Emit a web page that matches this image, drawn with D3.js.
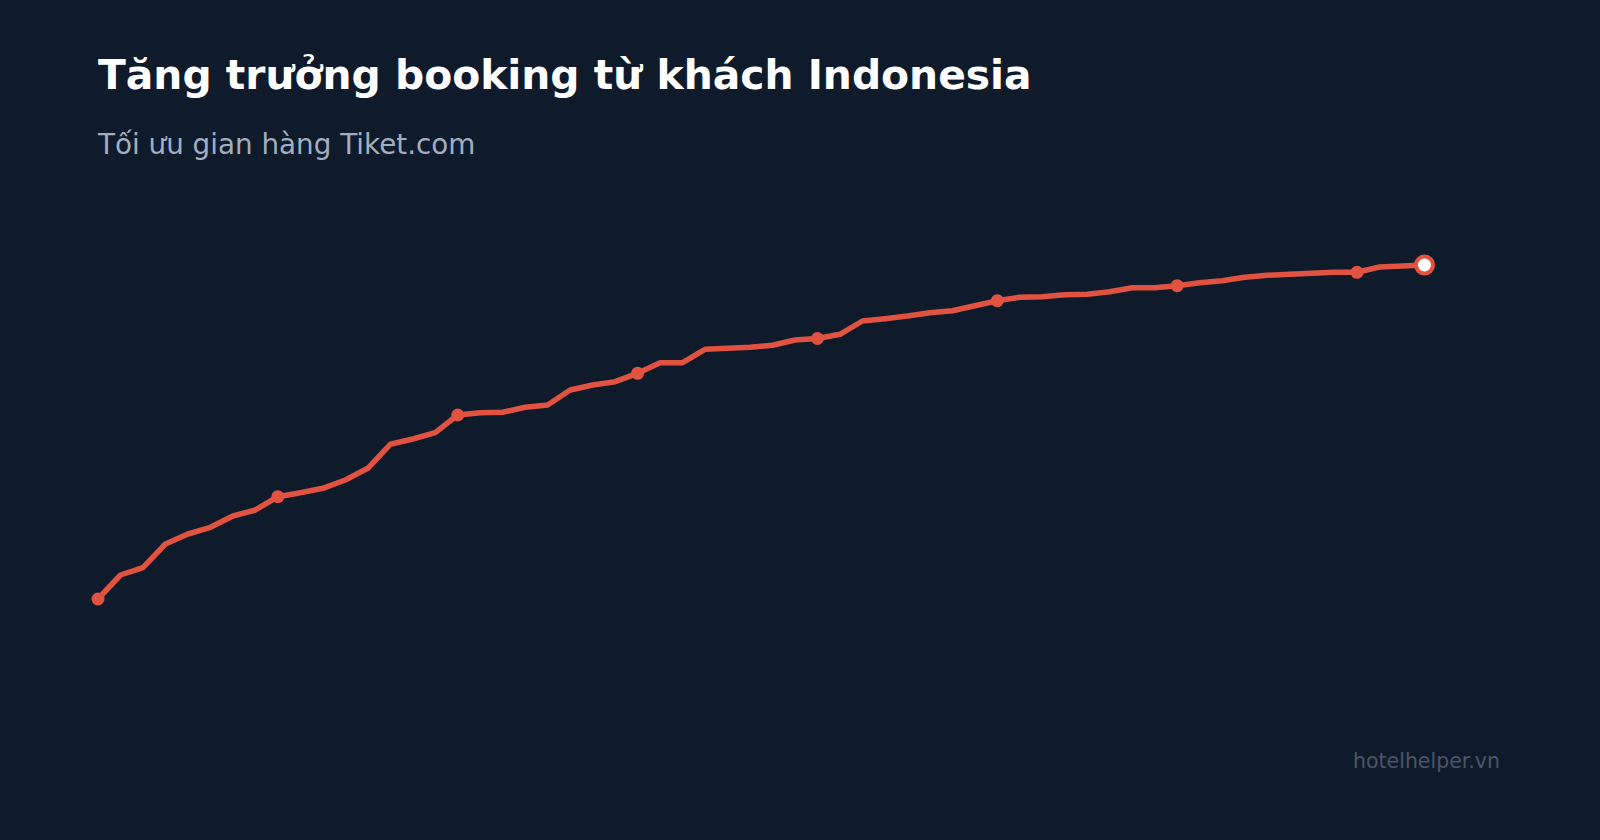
<!DOCTYPE html>
<html lang="vi">
<head>
    <meta charset="UTF-8">
    <title>Tăng trưởng booking từ khách Indonesia</title>
    <script src="https://d3js.org/d3.v7.min.js"></script>
    <style>
        html, body { margin: 0; padding: 0; background: #0f1a2b; }
        svg { display: block; }
        text { font-family: "DejaVu Sans", sans-serif; }
    </style>
</head>
<body>
<svg width="1600" height="840"></svg>

<script>
    // booking index theo tuần (60 tuần)
    const weeks = d3.range(1, 61);
    const bookings = [
        61, 85, 92.3, 116, 126, 132.7, 144, 150, 163.3, 167.3,
        171.7, 180, 191.7, 215.7, 221, 227.3, 245, 247.3, 247.7, 252.7,
        255, 270, 275, 278.3, 286.7, 297.3, 297.3, 310.7, 311.7, 312.7,
        314.7, 320, 321.5, 325.7, 339, 341.3, 344, 347.3, 349.3, 354.3,
        359.3, 362.7, 363.3, 365.3, 365.7, 368.3, 372.3, 372.3, 374.3, 377.3,
        379.3, 382.7, 384.7, 385.7, 386.7, 387.7, 387.7, 393, 394, 395
    ];
    const markEvery = 8;

    const title = "Tăng trưởng booking từ khách Indonesia";
    const subtitle = "Tối ưu gian hàng Tiket.com";
    const credit = "hotelhelper.vn";

    const width = 1600, height = 840;
    const red = "#e25241";

    const svg = d3.select("svg")
        .attr("width", width)
        .attr("height", height);

    svg.append("rect")
        .attr("width", width)
        .attr("height", height)
        .attr("fill", "#0f1a2b");

    const x = d3.scaleLinear()
        .domain([1, 60])
        .range([98, 1424.5]);

    const y = d3.scaleLinear()
        .domain([0, 460])
        .range([660, 200]);

    const data = weeks.map((w, i) => ({ week: w, value: bookings[i] }));

    const line = d3.line()
        .x(d => x(d.week))
        .y(d => y(d.value));

    svg.append("path")
        .datum(data)
        .attr("fill", "none")
        .attr("stroke", red)
        .attr("stroke-width", 5.5)
        .attr("stroke-linejoin", "round")
        .attr("stroke-linecap", "round")
        .attr("d", line);

    const marked = data.filter((d, i) => i % markEvery === 0 && i < data.length - 1);

    svg.append("g")
        .selectAll("circle")
        .data(marked)
        .enter().append("circle")
        .attr("cx", d => x(d.week))
        .attr("cy", d => y(d.value))
        .attr("r", 6.5)
        .attr("fill", red);

    const last = data[data.length - 1];
    svg.append("circle")
        .attr("cx", x(last.week))
        .attr("cy", y(last.value))
        .attr("r", 8.5)
        .attr("fill", "#ffffff")
        .attr("stroke", red)
        .attr("stroke-width", 4);

    svg.append("text")
        .attr("x", 98)
        .attr("y", 88.5)
        .attr("fill", "#ffffff")
        .attr("font-size", 40.8)
        .attr("font-weight", "bold")
        .text(title);

    svg.append("text")
        .attr("x", 98)
        .attr("y", 153.5)
        .attr("fill", "#a0aec0")
        .attr("font-size", 27.8)
        .text(subtitle);

    svg.append("text")
        .attr("x", 1500)
        .attr("y", 768)
        .attr("text-anchor", "end")
        .attr("fill", "#4a5568")
        .attr("font-size", 20.5)
        .text(credit);
</script>

</body>
</html>
